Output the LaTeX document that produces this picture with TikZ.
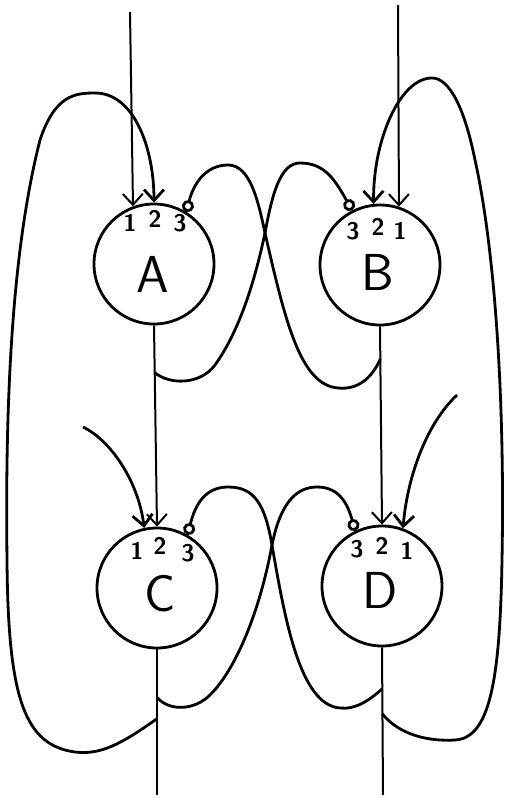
\documentclass[tikz,border=0pt]{standalone}
\usepackage{fontspec}
\usetikzlibrary{arrows.meta,calc}
\begin{document}
\begin{tikzpicture}[x=1pt,y=-1pt,
	cell/.style={circle,draw,line width=2.8pt,minimum size=120pt,inner sep=0pt},
	wire/.style={line width=2pt},
	loopw/.style={line width=2.8pt},
	excite/.style={-{Straight Barb[length=11pt,width=20pt]}},
	inhibit/.style={-{Circle[open,length=12pt,width=12pt]}},
	port/.style={font=\sffamily\bfseries\fontsize{24}{24}\selectfont},
	lbl/.style={font=\sffamily\fontsize{52}{52}\selectfont}]
	\useasboundingbox (0,0) rectangle (505,798);
	% cells
	\node[cell] (A) at (154,264) {};
	\node[cell] (B) at (380,265) {};
	\node[cell] (C) at (157,588) {};
	\node[cell] (D) at (382,586) {};
	\node[lbl] (Alab) at (153,274) {A};
	\node[lbl] (Blab) at (378,272) {B};
	\node[lbl] (Clab) at (160,594) {C};
	\node[lbl] (Dlab) at (380,590) {D};
	\node[port] (A1) at (130,223) {1};
	\node[port] (A2) at (155,219) {2};
	\node[port] (A3) at (180,223) {3};
	\node[port] (B3) at (353,231) {3};
	\node[port] (B2) at (378,227) {2};
	\node[port] (B1) at (400,231) {1};
	\node[port] (C1) at (137,551) {1};
	\node[port] (C2) at (160,546) {2};
	\node[port] (C3) at (188,553) {3};
	\node[port] (D3) at (357,549) {3};
	\node[port] (D2) at (382,546) {2};
	\node[port] (D1) at (407,551) {1};
	% free ends and branch points
	\coordinate (inA) at (130,12);
	\coordinate (inB) at (398,5);
	\coordinate (inC) at (83,427);
	\coordinate (inD) at (457,395);
	\coordinate (endC) at (157,795);
	\coordinate (endD) at (383,795);
	\coordinate (Ab) at ($(A.south)!0.235!(C.north)$);
	\coordinate (Bb) at ($(B.south)!0.164!(D.north)$);
	\coordinate (Cb1) at ($(C.south)!0.33!(endC)$);
	\coordinate (Cb2) at ($(C.south)!0.476!(endC)$);
	\coordinate (Db1) at ($(D.south)!0.28!(endD)$);
	\coordinate (Db2) at ($(D.south)!0.45!(endD)$);
	% straight lines
	\draw[wire,excite] (inA) -- (A.110);
	\draw[wire,excite] (inB) -- (B.72);
	\draw[wire,excite] (A.south) -- (C.north);
	\draw[wire,excite] (B.south) -- (D.north);
	\draw[wire] (C.south) -- (endC);
	\draw[wire] (D.south) -- (endD);
	\draw[loopw,excite] (inC) .. controls (110,440) and (138,480) .. (C.102);
	\draw[loopw,excite] (inD) .. controls (425,425) and (407,480) .. (D.70);
	% long feedback loops
	\draw[loopw,excite] (Cb2) .. controls (120,745) and (100,755) .. (75,752)
		.. controls (25,745) and (8,700) .. (7,560)
		.. controls (5,400) and (12,250) .. (40,140)
		.. controls (55,95) and (75,93) .. (95,93)
		.. controls (135,93) and (154,150) .. (A.north);
	\draw[loopw,excite] (Db2) .. controls (395,730) and (420,742) .. (455,740)
		.. controls (490,738) and (500,680) .. (502,560)
		.. controls (505,400) and (495,250) .. (475,160)
		.. controls (465,110) and (450,78) .. (432,78)
		.. controls (400,78) and (373,140) .. (B.96);
	% crossed inhibition
	\draw[loopw,inhibit] (Bb) .. controls (372,378) and (358,390) .. (338,388)
		.. controls (300,385) and (285,320) .. (265,233)
		.. controls (258,200) and (250,165) .. (228,165)
		.. controls (205,165) and (193,185) .. (A.58);
	\draw[loopw,inhibit] (Ab) .. controls (170,385) and (200,385) .. (215,365)
		.. controls (240,330) and (255,280) .. (265,233)
		.. controls (272,195) and (280,163) .. (300,163)
		.. controls (325,163) and (335,180) .. (B.117);
	\draw[loopw,inhibit] (Db1) .. controls (370,700) and (355,710) .. (340,708)
		.. controls (300,705) and (285,620) .. (272,545)
		.. controls (265,505) and (255,487) .. (228,487)
		.. controls (205,487) and (195,505) .. (C.60);
	\draw[loopw,inhibit] (Cb1) .. controls (170,712) and (195,710) .. (210,695)
		.. controls (240,665) and (262,600) .. (272,545)
		.. controls (280,505) and (295,487) .. (317,487)
		.. controls (340,487) and (348,505) .. (D.116);
\end{tikzpicture}
\end{document}
